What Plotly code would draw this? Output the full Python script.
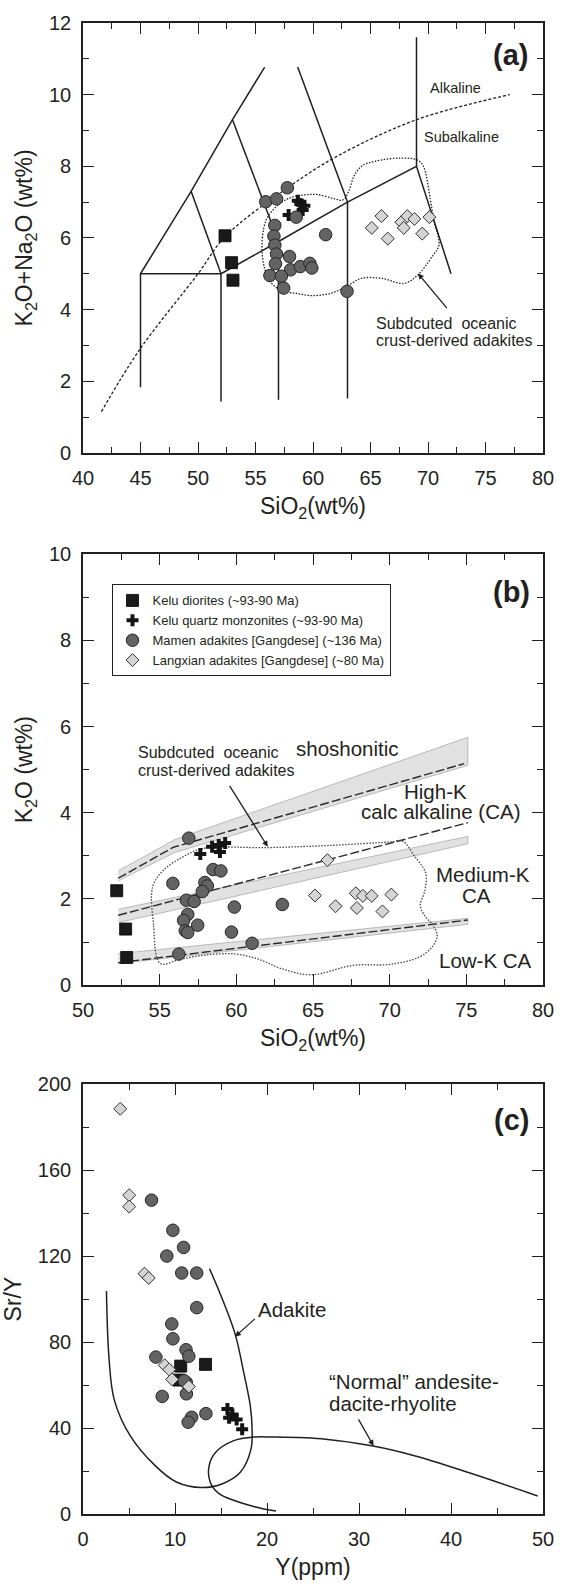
import plotly.graph_objects as go

FONT = "Liberation Sans, Arial, sans-serif"
INK = "#231f20"

# ---------------- panel (a): TAS ----------------
a_tas_x = [45, 45, 52, None, 52, 52, 57, 63, 69, 72, None, 57, 57, None, 63, 63, None, 69, 69, None,
           45, 49.4, 53, 55.8, None, 49.4, 52, None, 53, 57, None, 58.67, 63]
a_tas_y = [1.83, 5, 5, None, 1.43, 5, 5.9, 7, 8, 5, None, 1.48, 5.9, None, 1.52, 7, None, 8, 11.6, None,
           5, 7.3, 9.3, 10.77, None, 7.3, 5, None, 9.3, 5.9, None, 10.77, 7]
a_alk_x = [41.6, 44.9, 50.0, 52.4, 57.8, 62.1, 69.0, 77.1]
a_alk_y = [1.15, 2.87, 5.0, 6.05, 7.4, 8.28, 9.3, 10.0]
a_field_x = [55.6, 55.6, 55.97, 56.97, 58.1, 59.3, 60.4, 61.8, 62.6, 63.1, 63.6, 64.3, 65.4, 67.6, 69.1, 69.6,
             70.2, 70.5, 70.95, 70.4, 69.1, 67.9, 66.0, 64.2, 62.9, 61.5, 59.9, 58.6, 57.25, 56.25, 55.83, 55.6]
a_field_y = [5.5, 6.0, 6.53, 6.92, 7.13, 7.2, 7.21, 7.1, 7.06, 7.3, 7.75, 8.02, 8.14, 8.23, 8.17, 8.0,
             7.08, 6.5, 5.8, 5.5, 4.96, 4.73, 4.87, 4.87, 4.64, 4.45, 4.39, 4.45, 4.53, 4.79, 5.11, 5.5]
a_dior_x = [52.35, 52.92, 53.04]
a_dior_y = [6.06, 5.31, 4.82]
a_qm_x = [58.68, 59.25, 59.1, 57.88, 58.9]
a_qm_y = [7.04, 6.9, 6.78, 6.64, 6.95]
a_mam_x = [57.77, 55.89, 56.83, 58.54, 56.68, 56.6, 56.68, 56.83, 56.74, 57.96, 58.05, 58.9, 59.73, 59.9,
           56.25, 57.25, 57.45, 61.1, 62.96]
a_mam_y = [7.40, 7.01, 7.09, 6.58, 6.35, 6.05, 5.80, 5.55, 5.28, 5.48, 5.11, 5.2, 5.29, 5.16,
           4.95, 4.93, 4.6, 6.09, 4.51]
a_lx_x = [65.11, 65.95, 66.5, 67.68, 68.2, 67.89, 68.82, 69.5, 70.12]
a_lx_y = [6.28, 6.61, 5.98, 6.44, 6.61, 6.28, 6.53, 6.12, 6.58]

# ---------------- panel (b): K2O vs SiO2 ----------------
b_band1_x = [52.3, 56.0, 75.1, 75.1, 56.0, 52.3]
b_band1_y = [2.42, 3.08, 5.1, 5.75, 3.38, 2.65]
b_band2_x = [52.3, 75.1, 75.1, 52.3]
b_band2_y = [1.45, 3.28, 3.45, 1.76]
b_band3_x = [52.3, 75.1, 75.1, 52.3]
b_band3_y = [0.5, 1.41, 1.55, 0.73]
b_sho_x = [52.3, 55.9, 74.86]
b_sho_y = [2.48, 3.2, 5.14]
b_hk_x = [52.3, 75.1]
b_hk_y = [1.62, 3.77]
b_lk_x = [52.3, 75.1]
b_lk_y = [0.52, 1.51]
b_field_x = [55.04, 54.6, 54.55, 55.26, 56.54, 57.82, 62.1, 66.0, 70.0, 70.85, 71.6, 72.35, 72.3, 72.0, 72.3,
             72.8, 73.1, 72.8, 71.92, 70.0, 67.65, 64.87, 62.95, 61.45, 59.96, 58.03, 56.33, 55.04]
b_field_y = [0.5, 1.4, 2.29, 2.67, 2.98, 3.17, 3.19, 3.24, 3.32, 3.34, 3.0, 2.6, 2.2, 1.85, 1.6,
             1.4, 1.15, 0.9, 0.65, 0.48, 0.46, 0.24, 0.38, 0.6, 0.72, 0.7, 0.6, 0.5]
b_dior_x = [52.2, 52.78, 52.85]
b_dior_y = [2.19, 1.30, 0.64]
b_qm_x = [57.65, 58.42, 58.93, 59.27, 58.85]
b_qm_y = [3.04, 3.21, 3.09, 3.30, 3.25]
b_mam_x = [56.9, 58.48, 58.99, 55.86, 57.95, 58.11, 57.78, 56.74, 57.25, 59.87, 63.0, 56.83, 56.56, 57.48,
           56.67, 56.83, 59.68, 61.03, 56.25]
b_mam_y = [3.41, 2.68, 2.65, 2.36, 2.38, 2.30, 2.17, 1.97, 1.94, 1.81, 1.87, 1.64, 1.50, 1.39,
           1.26, 1.22, 1.23, 0.97, 0.72]
b_lx_x = [65.94, 65.13, 66.47, 67.79, 68.25, 68.83, 67.86, 69.53, 70.11]
b_lx_y = [2.90, 2.08, 1.83, 2.13, 2.07, 2.07, 1.79, 1.71, 2.10]

# ---------------- panel (c): Sr/Y vs Y ----------------
c_adk_x = [13.75, 14.79, 16.53, 17.49, 18.19, 18.38, 18.26, 17.1, 15.17, 12.86, 10.15, 7.84, 5.14, 3.40, 2.82, 2.55]
c_adk_y = [114.1, 103.7, 83.8, 65.4, 50.1, 39.4, 30.2, 19.4, 14.1, 12.3, 14.9, 22.5, 36.3, 53.1, 73.0, 103.7]
c_adr_x = [20.97, 18.65, 14.79, 13.82, 13.71, 14.4, 16.33, 18.65, 20.58, 26.37, 31.39, 36.02, 41.81, 49.42]
c_adr_y = [1.4, 3.4, 9.5, 14.9, 22.5, 28.6, 34.0, 35.8, 35.8, 34.8, 31.7, 27.1, 19.4, 8.4]
c_dior_x = [10.62, 13.32, 10.42]
c_dior_y = [68.8, 69.6, 62.3]
c_qm_x = [15.7, 16.24, 15.88, 16.7, 17.3]
c_qm_y = [48.9, 46.3, 44.8, 44.0, 39.4]
c_mam_x = [7.45, 9.77, 10.93, 9.11, 10.73, 12.36, 12.36, 9.65, 9.77, 11.2, 11.5, 7.92, 11.24, 11.0, 11.24,
           8.61, 13.36, 11.81, 11.43]
c_mam_y = [146.0, 132.0, 124.0, 120.0, 112.1, 112.1, 96.0, 88.4, 81.5, 76.4, 73.4, 73.0, 61.1, 62.0, 55.9,
           54.7, 46.7, 45.0, 42.7]
c_lx_x = [4.05, 5.02, 5.02, 6.68, 7.14, 8.88, 9.38, 9.69, 11.5]
c_lx_y = [188.5, 148.3, 143.0, 111.8, 109.8, 69.2, 67.2, 62.6, 59.3]

names = ["Kelu diorites (~93-90 Ma)", "Kelu quartz monzonites (~93-90 Ma)",
         "Mamen adakites [Gangdese] (~136 Ma)", "Langxian adakites [Gangdese] (~80 Ma)"]

mk = [
    dict(symbol="square", size=12, color="#1a1a1a", line=dict(color="#000000", width=0.8)),
    dict(symbol="cross", size=10, color="#141414", line=dict(color="#000000", width=0)),
    dict(symbol="circle", size=12.5, color="#636363", line=dict(color="#262626", width=1)),
    dict(symbol="diamond", size=10, color="#d4d4d4", line=dict(color="#333333", width=1)),
]

fig = go.Figure()


def line(x, y, ax, dash="solid", width=1.5, color=INK, shape="linear"):
    fig.add_trace(go.Scatter(x=x, y=y, mode="lines", xaxis=ax[0], yaxis=ax[1], showlegend=False,
                             hoverinfo="skip", line=dict(color=color, width=width, dash=dash, shape=shape)))


def band(x, y, ax):
    fig.add_trace(go.Scatter(x=x, y=y, mode="lines", fill="toself", fillcolor="#e1e1e1",
                             xaxis=ax[0], yaxis=ax[1], showlegend=False, hoverinfo="skip",
                             line=dict(color="#ababab", width=0.8)))


def pts(xs, ys, ax, legend):
    for i, (x, y) in enumerate(zip(xs, ys)):
        fig.add_trace(go.Scatter(x=x, y=y, mode="markers", xaxis=ax[0], yaxis=ax[1], name=names[i],
                                 showlegend=legend, marker=mk[i]))


A = ("x", "y")
B = ("x2", "y2")
C = ("x3", "y3")

# panel a
line(a_tas_x, a_tas_y, A)
line(a_alk_x, a_alk_y, A, dash="3px,2px", width=1.3, shape="spline")
line(a_field_x, a_field_y, A, dash="1.5px,1.5px", width=1.3, shape="spline")
pts([a_dior_x, a_qm_x, a_mam_x, a_lx_x], [a_dior_y, a_qm_y, a_mam_y, a_lx_y], A, False)

# panel b
band(b_band1_x, b_band1_y, B)
band(b_band2_x, b_band2_y, B)
band(b_band3_x, b_band3_y, B)
line(b_sho_x, b_sho_y, B, dash="9px,3px", width=1.4, color="#2a2a2a")
line(b_hk_x, b_hk_y, B, dash="9px,3px", width=1.4, color="#2a2a2a")
line(b_lk_x, b_lk_y, B, dash="9px,3px", width=1.4, color="#2a2a2a")
line(b_field_x, b_field_y, B, dash="1.5px,1.5px", width=1.3, shape="spline", color="#444444")
pts([b_dior_x, b_qm_x, b_mam_x, b_lx_x], [b_dior_y, b_qm_y, b_mam_y, b_lx_y], B, True)

# panel c
line(c_adk_x, c_adk_y, C, width=1.5, shape="spline")
line(c_adr_x, c_adr_y, C, width=1.5, shape="spline")
pts([c_dior_x, c_qm_x, c_mam_x, c_lx_x], [c_dior_y, c_qm_y, c_mam_y, c_lx_y], C, False)

# ---------------- layout ----------------
W, H = 566, 1588
ML, MR, MT, MB = 78, 20, 15, 62
PH = H - MT - MB


def dom(top_px, bot_px):
    return [(H - MB - bot_px) / PH, (H - MB - top_px) / PH]


def axis(rng, dtick, minor, title, domain, anchor):
    return dict(range=rng, dtick=dtick, tick0=rng[0], ticks="inside", ticklen=11, tickwidth=1.4,
                tickcolor=INK, minor=dict(ticks="inside", ticklen=6, dtick=minor, tickwidth=1.4,
                                          tickcolor=INK, showgrid=False),
                showline=True, linewidth=1.6, linecolor=INK, mirror="ticks", showgrid=False,
                zeroline=False, domain=domain, anchor=anchor, ticklabelstandoff=6,
                tickfont=dict(size=20, color=INK, family=FONT),
                title=dict(text=title, font=dict(size=23, color=INK, family=FONT), standoff=10))


fig.update_layout(
    width=W, height=H, margin=dict(l=ML, r=MR, t=MT, b=MB),
    paper_bgcolor="white", plot_bgcolor="white",
    font=dict(family=FONT, color=INK),
    xaxis=axis([40, 80], 5, 2.5, "SiO<sub>2</sub>(wt%)", [0, 1], "y"),
    yaxis=axis([0, 12], 2, 1, "K<sub>2</sub>O+Na<sub>2</sub>O (wt%)", dom(15, 450.6), "x"),
    xaxis2=axis([50, 80], 5, 2.5, "SiO<sub>2</sub>(wt%)", [0, 1], "y2"),
    yaxis2=axis([0, 10], 2, 1, "K<sub>2</sub>O (wt%)", dom(553.3, 990), "x2"),
    xaxis3=axis([0, 50], 10, 5, "Y(ppm)", [0, 1], "y3"),
    yaxis3=axis([0, 200], 40, 20, "Sr/Y", dom(1090.3, 1526), "x3"),
    legend=dict(x=(107 - ML) / (W - ML - MR), y=(H - MB - 584) / PH, xanchor="left", yanchor="top",
                bordercolor=INK, borderwidth=1, bgcolor="white",
                font=dict(size=13, color=INK, family=FONT), tracegroupgap=0),
)

ann = []


def txt(x, y, t, ax, size, xanchor="center", bold=False):
    ann.append(dict(x=x, y=y, xref=ax[0], yref=ax[1], text=("<b>%s</b>" % t) if bold else t,
                    showarrow=False, xanchor=xanchor, yanchor="middle",
                    font=dict(size=size, color=INK, family=FONT)))


def arrow(x0, y0, x1, y1, ax):
    ann.append(dict(x=x1, y=y1, ax=x0, ay=y0, xref=ax[0], yref=ax[1], axref=ax[0], ayref=ax[1],
                    text="", showarrow=True, arrowhead=2, arrowsize=0.9, arrowwidth=1.3, arrowcolor=INK))


# panel a texts
txt(78.86, 11.1, "(a)", A, 29, "right", True)
txt(72.4, 10.18, "Alkaline", A, 14.5)
txt(72.9, 8.83, "Subalkaline", A, 14.5)
txt(65.27, 3.61, "Subdcuted  oceanic", A, 16, "left")
txt(65.27, 3.13, "crust-derived adakites", A, 16, "left")
arrow(71.75, 4.0, 69.13, 5.01, A)

# panel b texts
txt(79.26, 9.12, "(b)", B, 29, "right", True)
txt(67.26, 5.5, "shoshonitic", B, 20.5)
txt(73.0, 4.5, "High-K", B, 20.5)
txt(73.35, 4.04, "calc alkaline (CA)", B, 20.5)
txt(76.08, 2.57, "Medium-K", B, 20.5)
txt(75.67, 2.08, "CA", B, 20.5)
txt(76.25, 0.57, "Low-K CA", B, 20.5)
txt(53.43, 5.39, "Subdcuted  oceanic", B, 16, "left")
txt(53.43, 4.97, "crust-derived adakites", B, 16, "left")
arrow(59.5, 4.66, 62.05, 3.21, B)

# panel c texts
txt(48.7, 183.2, "(c)", C, 29, "right", True)
txt(22.7, 95.3, "Adakite", C, 20.5)
txt(26.56, 61.6, "\u201cNormal\u201d andesite-", C, 20.5, "left")
txt(26.56, 51.6, "dacite-rhyolite", C, 20.5, "left")
arrow(18.84, 91.4, 16.53, 82.5, C)
arrow(29.85, 44.7, 31.58, 31.7, C)

fig.update_layout(annotations=ann)
fig.write_html("out.html")
